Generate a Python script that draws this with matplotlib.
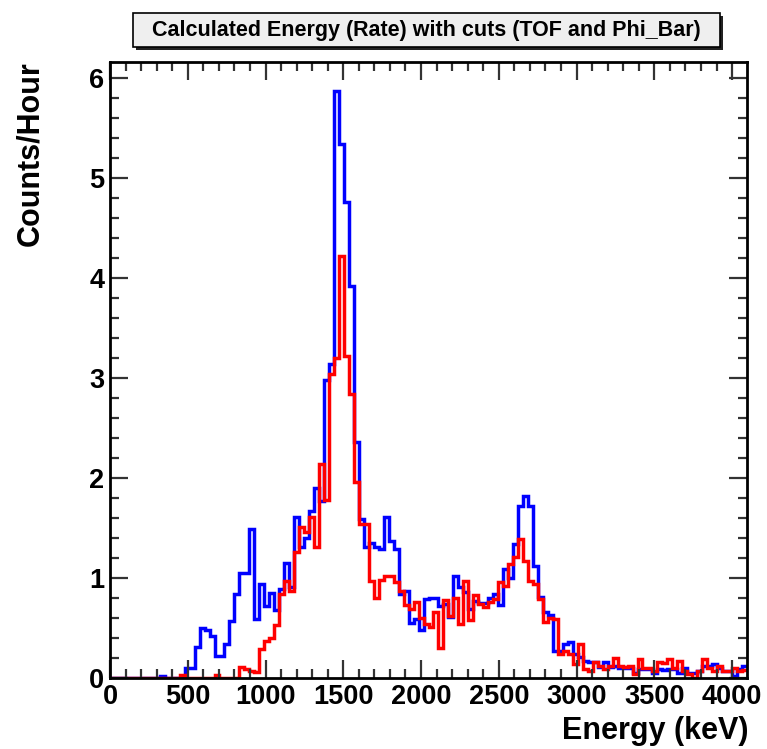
import numpy as np
import matplotlib
matplotlib.use("Agg")
import matplotlib.pyplot as plt
from matplotlib.patches import Rectangle

plt.rcParams['font.family'] = ['Liberation Sans', 'DejaVu Sans']
plt.rcParams['font.weight'] = 'bold'

# ---------------- data ----------------
title = "Calculated Energy (Rate) with cuts (TOF and Phi_Bar)"
x_label = "Energy (keV)"
y_label = "Counts/Hour"
e_min, e_max, n_bins = 0, 4096, 128

rate_all = [0.0] * 10 + [0.02] + [0.0] * 4 + [
    0.10, 0.10, 0.31, 0.50, 0.48, 0.42, 0.22, 0.22, 0.34, 0.57,
    0.84, 1.05, 1.05, 1.49, 0.59, 0.94, 0.72, 0.85, 0.68, 0.89,
    1.15, 0.91, 1.61, 1.31, 1.40, 1.67, 1.90, 1.77, 2.98, 3.14,
    5.87, 5.34, 4.76, 3.92, 2.36, 1.59, 1.31, 1.35, 1.31, 1.29,
    1.61, 1.37, 1.29, 0.84, 0.87, 0.55, 0.59, 0.48, 0.79, 0.80,
    0.80, 0.72, 0.74, 0.61, 1.02, 0.91, 0.86, 0.69, 0.77, 0.75,
    0.75, 0.80, 0.84, 0.73, 1.09, 1.00, 1.34, 1.72, 1.82, 1.72,
    1.12, 0.81, 0.66, 0.63, 0.27, 0.27, 0.34, 0.36, 0.24, 0.21,
    0.17, 0.16, 0.16, 0.11, 0.16, 0.11, 0.12, 0.10, 0.10, 0.10,
    0.05, 0.09, 0.09, 0.09, 0.05, 0.09, 0.08, 0.09, 0.09, 0.05,
    0.10, 0.05, 0.05, 0.07, 0.12, 0.12, 0.14, 0.10, 0.07, 0.07,
    0.02, 0.09, 0.12]

rate_cut = [0.0] * 14 + [0.03] + [0.0] * 6 + [0.03] + [0.0] * 4 + [
    0.11, 0.09, 0.07, 0.06, 0.29, 0.37, 0.40, 0.53, 0.84,
    0.97, 0.87, 1.26, 1.51, 1.46, 1.61, 1.31, 2.14, 1.78, 3.04,
    3.20, 4.22, 3.22, 2.84, 1.96, 1.54, 1.54, 0.97, 0.80, 0.98,
    1.02, 1.02, 0.96, 0.87, 0.73, 0.69, 0.76, 0.60, 0.54, 0.51,
    0.66, 0.30, 0.78, 0.62, 0.80, 0.54, 0.97, 0.58, 0.83, 0.74,
    0.71, 0.76, 0.79, 0.96, 0.92, 1.14, 1.21, 1.39, 1.17, 0.97,
    0.94, 0.79, 0.56, 0.60, 0.59, 0.24, 0.27, 0.24, 0.14, 0.34,
    0.09, 0.07, 0.16, 0.12, 0.09, 0.12, 0.20, 0.12, 0.11, 0.12,
    0.04, 0.19, 0.10, 0.10, 0.07, 0.16, 0.15, 0.19, 0.10, 0.17,
    0.07, 0.04, 0.00, 0.07, 0.19, 0.10, 0.07, 0.12, 0.07, 0.07,
    0.10, 0.07, 0.08]

x_ticks = [0, 500, 1000, 1500, 2000, 2500, 3000, 3500, 4000]
y_ticks = [0, 1, 2, 3, 4, 5, 6]

# ---------------- figure ----------------
W, H = 767, 749
fig = plt.figure(figsize=(W / 100, H / 100), dpi=100)
fig.patch.set_facecolor('white')

def fx(px):
    return px / W

def fy(py):
    return 1 - py / H

ax = fig.add_axes([fx(110), fy(678), fx(747) - fx(110), fy(61.5) - fy(678)])

edges = np.linspace(e_min, e_max, n_bins + 1)
ax.stairs(rate_all, edges, baseline=None, color=(0, 0, 1), linewidth=2.5)
ax.stairs(rate_cut, edges, baseline=None, color=(1, 0, 0), linewidth=2.5)

ax.set_xlim(e_min, e_max)
ax.set_ylim(0, 6.16)

ax.set_xticks(x_ticks)
ax.set_xticklabels([str(v) for v in x_ticks])
ax.set_yticks(y_ticks)
ax.set_yticklabels([str(v) for v in y_ticks])
ax.xaxis.set_minor_locator(matplotlib.ticker.MultipleLocator(100))
ax.yaxis.set_minor_locator(matplotlib.ticker.MultipleLocator(0.2))

ax.tick_params(which='both', direction='in', top=True, right=True,
               width=1.6, color='#333333')
ax.tick_params(which='major', length=13, labelsize=19.5, pad=4)
ax.tick_params(which='minor', length=6.5)
for lab in ax.get_xticklabels() + ax.get_yticklabels():
    lab.set_fontweight('bold')
for s in ax.spines.values():
    s.set_linewidth(2)
    s.set_color('black')

fig.text(fx(748), fy(731), x_label, ha='right', va='center',
         fontsize=22, fontweight='bold')
fig.text(fx(30), fy(61), y_label, ha='center', va='top', rotation=90,
         fontsize=22, fontweight='bold')

# title box with shadow
bx0, bx1, by0, by1 = 133, 720, 13, 47
sh = 3
fig.patches.append(Rectangle((fx(bx0 + sh), fy(by1 + sh)), fx(bx1 - bx0), fy(by0) - fy(by1),
                             transform=fig.transFigure, facecolor='#222222',
                             edgecolor='none', zorder=1))
fig.patches.append(Rectangle((fx(bx0), fy(by1)), fx(bx1 - bx0), fy(by0) - fy(by1),
                             transform=fig.transFigure, facecolor='#efefef',
                             edgecolor='black', linewidth=1.2, zorder=2))
fig.text(fx((bx0 + bx1) / 2), fy(30.5), title, ha='center', va='center',
         fontsize=15.5, fontweight='bold', zorder=3)

fig.savefig('out.png', dpi=100, facecolor='white')
